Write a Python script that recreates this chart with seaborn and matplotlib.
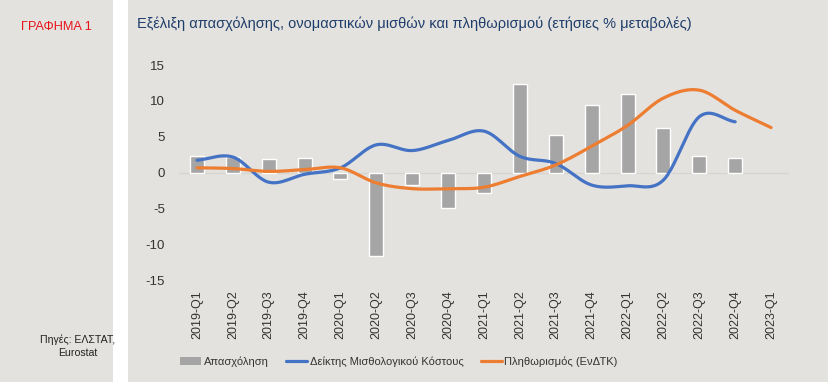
import numpy as np
import pandas as pd
import seaborn as sns
import matplotlib.pyplot as plt
from matplotlib import font_manager
from matplotlib.patches import Rectangle, Patch
from matplotlib.lines import Line2D

quarters = ["2019-Q1", "2019-Q2", "2019-Q3", "2019-Q4",
            "2020-Q1", "2020-Q2", "2020-Q3", "2020-Q4",
            "2021-Q1", "2021-Q2", "2021-Q3", "2021-Q4",
            "2022-Q1", "2022-Q2", "2022-Q3", "2022-Q4",
            "2023-Q1"]
employment = [2.3, 2.2, 1.9, 2.1, -0.9, -11.6, -1.7, -4.9,
              -2.8, 12.3, 5.3, 9.5, 11.0, 6.3, 2.4, 2.0]
wage_cost = [1.75, 2.2, -1.3, -0.2, 0.7, 3.9, 3.1, 4.5,
             5.8, 2.3, 1.3, -1.7, -1.8, -1.0, 7.8, 7.1]
inflation = [0.7, 0.6, 0.2, 0.45, 0.7, -1.4, -2.2, -2.2,
             -2.0, -0.5, 1.1, 3.7, 6.6, 10.4, 11.5, 8.7, 6.3]
yticks = [-15, -10, -5, 0, 5, 10, 15]

title = "Εξέλιξη απασχόλησης, ονομαστικών μισθών και πληθωρισμού (ετήσιες % μεταβολές)"
label_emp = "Απασχόληση"
label_wage = "Δείκτης Μισθολογικού Κόστους"
label_inf = "Πληθωρισμός (ΕνΔΤΚ)"

BG = "#e3e2de"
GRAY = "#a5a5a5"
BLUE = "#4472c4"
ORANGE = "#ed7d31"

sns.set_style("white")
plt.rcParams["font.family"] = ["Liberation Sans", "DejaVu Sans"]
FONT = ["Liberation Sans", "DejaVu Sans"]
leg_size, src_size = 8.0, 7.6


def smooth(values, n=24):
    """Catmull-Rom curve through the category points (visual smoothing)."""
    y = np.asarray(values, dtype=float)
    x = np.arange(len(y), dtype=float)
    px = np.concatenate([[2 * x[0] - x[1]], x, [2 * x[-1] - x[-2]]])
    py = np.concatenate([[2 * y[0] - y[1]], y, [2 * y[-1] - y[-2]]])
    xs, ys = [], []
    t = np.linspace(0, 1, n, endpoint=False)
    for i in range(1, len(px) - 2):
        for P, out in ((px, xs), (py, ys)):
            p0, p1, p2, p3 = P[i - 1], P[i], P[i + 1], P[i + 2]
            out.extend(0.5 * ((2 * p1) + (-p0 + p2) * t
                              + (2 * p0 - 5 * p1 + 4 * p2 - p3) * t ** 2
                              + (-p0 + 3 * p1 - 3 * p2 + p3) * t ** 3))
    xs.append(x[-1]); ys.append(y[-1])
    return np.array(xs), np.array(ys)


fig = plt.figure(figsize=(8.29, 3.82), dpi=100)
fig.patch.set_facecolor("white")
W, H = 829, 382
fig.add_artist(Rectangle((0, 0), 113 / W, 1, transform=fig.transFigure,
                         facecolor=BG, edgecolor="none", zorder=0))
fig.add_artist(Rectangle((128 / W, 0), 1 - 128 / W, 1, transform=fig.transFigure,
                         facecolor=BG, edgecolor="none", zorder=0))

ax = fig.add_axes([179 / W, 1 - 280.7 / H, 610 / W, 215.7 / H])
ax.set_facecolor("none")

emp_df = pd.DataFrame({"q": quarters[:len(employment)], "v": employment})
sns.barplot(data=emp_df, x="q", y="v", order=quarters, color=GRAY,
            width=0.39, saturation=1, ax=ax, zorder=2)

ax.axhline(0, color="#d6d5d1", lw=1.0, zorder=1)

wx, wy = smooth(wage_cost)
sns.lineplot(x=wx, y=wy, color=BLUE, lw=2.3, ax=ax, sort=False,
             estimator=None, zorder=3)
ix, iy = smooth(inflation)
sns.lineplot(x=ix, y=iy, color=ORANGE, lw=2.3, ax=ax, sort=False,
             estimator=None, zorder=4)

ax.set_xlim(-0.5, len(quarters) - 0.5)
ax.set_ylim(-15, 15)
ax.set_yticks(yticks)
ax.set_yticklabels([str(v) for v in yticks])
ax.set_xticks(range(len(quarters)))
ax.set_xticklabels(quarters, rotation=90)
ax.tick_params(axis="y", length=0, pad=10, labelsize=9.5, labelcolor="#333333")
ax.tick_params(axis="x", length=0, pad=7, labelsize=9, labelcolor="#333333")
ax.set_xlabel("")
ax.set_ylabel("")
for s in ax.spines.values():
    s.set_visible(False)
if ax.get_legend():
    ax.get_legend().remove()

handles = [Patch(facecolor=GRAY, edgecolor="none", label=label_emp),
           Line2D([], [], color=BLUE, lw=2.3, label=label_wage),
           Line2D([], [], color=ORANGE, lw=2.3, label=label_inf)]
fig.legend(handles=handles, loc="center", bbox_to_anchor=(399 / W, 1 - 362 / H),
           ncol=3, frameon=False, handlelength=1.9,
           handletextpad=0.2, columnspacing=1.6, labelcolor="#333333",
           prop={"family": FONT, "size": leg_size})

fig.text(137 / W, 1 - 24 / H, title, color="#1f3d6b", fontsize=10.5,
         ha="left", va="center")
fig.text(56 / W, 1 - 27 / H, "ΓΡΑΦΗΜΑ 1", color="#e8141c", fontsize=9.2,
         ha="center", va="center")
fig.text(78 / W, 1 - 346 / H, "Πηγές: ΕΛΣΤΑΤ,\nEurostat", color="#222222",
         fontsize=src_size, family=FONT, ha="center", va="center",
         linespacing=1.35)

fig.savefig("out.png", dpi=100, facecolor=fig.get_facecolor())
